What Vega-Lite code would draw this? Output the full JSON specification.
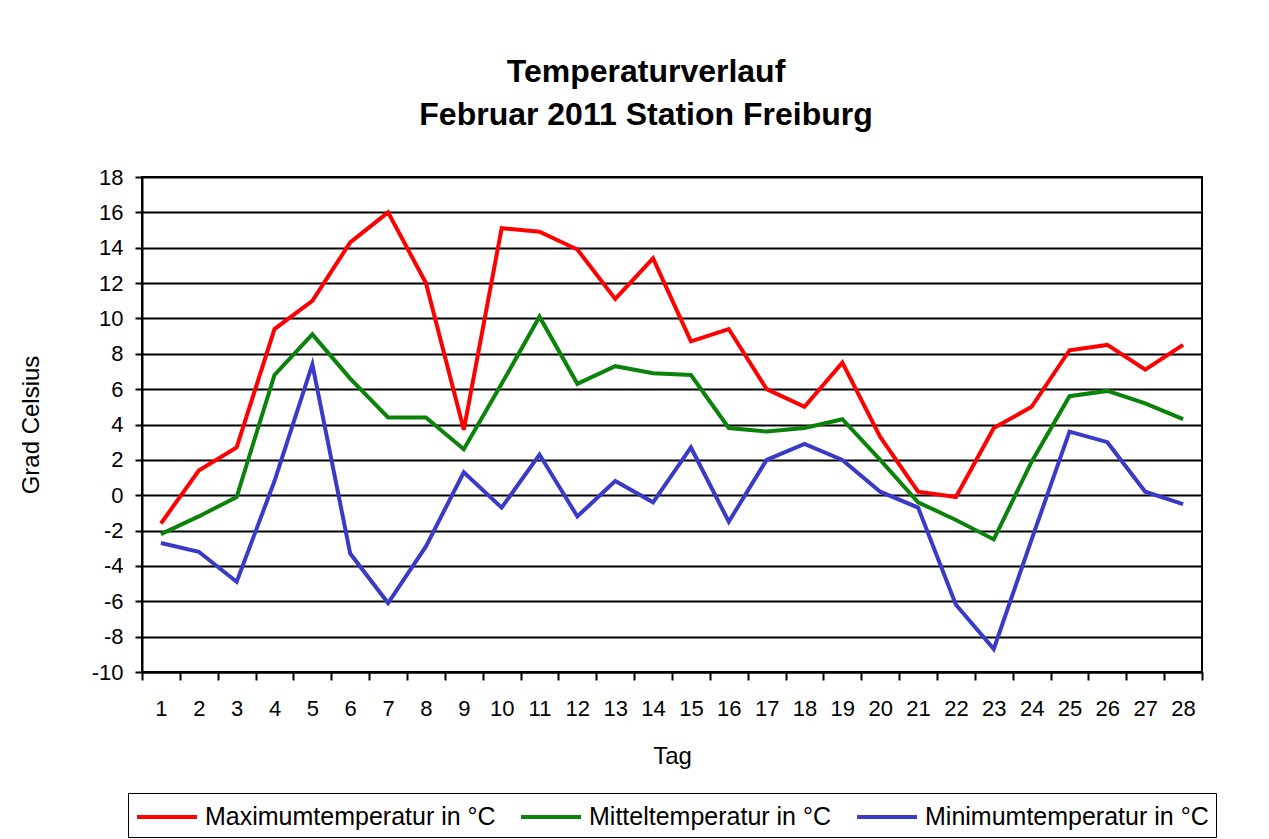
{
  "$schema": "https://vega.github.io/schema/vega-lite/v6.json",
  "autosize": {"type": "none"},
  "width": 1060,
  "height": 495,
  "padding": {"left": 142, "top": 177, "right": 67, "bottom": 167},
  "background": "white",
  "title": {
    "text": ["Temperaturverlauf", "Februar 2011 Station Freiburg"],
    "font": "Liberation Sans",
    "fontSize": 32,
    "fontWeight": "bold",
    "color": "black",
    "lineHeight": 43,
    "anchor": "middle",
    "dx": -26,
    "offset": 34
  },
  "config": {
    "view": {"stroke": "black", "strokeWidth": 2},
    "font": "Liberation Sans"
  },
  "data": {
    "values": [
      {"Tag": 1, "Serie": "Maximumtemperatur in °C", "Wert": -1.6},
      {"Tag": 2, "Serie": "Maximumtemperatur in °C", "Wert": 1.4},
      {"Tag": 3, "Serie": "Maximumtemperatur in °C", "Wert": 2.7},
      {"Tag": 4, "Serie": "Maximumtemperatur in °C", "Wert": 9.4},
      {"Tag": 5, "Serie": "Maximumtemperatur in °C", "Wert": 11.0},
      {"Tag": 6, "Serie": "Maximumtemperatur in °C", "Wert": 14.3},
      {"Tag": 7, "Serie": "Maximumtemperatur in °C", "Wert": 16.0},
      {"Tag": 8, "Serie": "Maximumtemperatur in °C", "Wert": 12.0},
      {"Tag": 9, "Serie": "Maximumtemperatur in °C", "Wert": 3.7},
      {"Tag": 10, "Serie": "Maximumtemperatur in °C", "Wert": 15.1},
      {"Tag": 11, "Serie": "Maximumtemperatur in °C", "Wert": 14.9},
      {"Tag": 12, "Serie": "Maximumtemperatur in °C", "Wert": 13.9},
      {"Tag": 13, "Serie": "Maximumtemperatur in °C", "Wert": 11.1},
      {"Tag": 14, "Serie": "Maximumtemperatur in °C", "Wert": 13.4},
      {"Tag": 15, "Serie": "Maximumtemperatur in °C", "Wert": 8.7},
      {"Tag": 16, "Serie": "Maximumtemperatur in °C", "Wert": 9.4},
      {"Tag": 17, "Serie": "Maximumtemperatur in °C", "Wert": 6.0},
      {"Tag": 18, "Serie": "Maximumtemperatur in °C", "Wert": 5.0},
      {"Tag": 19, "Serie": "Maximumtemperatur in °C", "Wert": 7.5},
      {"Tag": 20, "Serie": "Maximumtemperatur in °C", "Wert": 3.3},
      {"Tag": 21, "Serie": "Maximumtemperatur in °C", "Wert": 0.2},
      {"Tag": 22, "Serie": "Maximumtemperatur in °C", "Wert": -0.1},
      {"Tag": 23, "Serie": "Maximumtemperatur in °C", "Wert": 3.8},
      {"Tag": 24, "Serie": "Maximumtemperatur in °C", "Wert": 5.0},
      {"Tag": 25, "Serie": "Maximumtemperatur in °C", "Wert": 8.2},
      {"Tag": 26, "Serie": "Maximumtemperatur in °C", "Wert": 8.5},
      {"Tag": 27, "Serie": "Maximumtemperatur in °C", "Wert": 7.1},
      {"Tag": 28, "Serie": "Maximumtemperatur in °C", "Wert": 8.5},
      {"Tag": 1, "Serie": "Mitteltemperatur in °C", "Wert": -2.2},
      {"Tag": 2, "Serie": "Mitteltemperatur in °C", "Wert": -1.2},
      {"Tag": 3, "Serie": "Mitteltemperatur in °C", "Wert": -0.1},
      {"Tag": 4, "Serie": "Mitteltemperatur in °C", "Wert": 6.8},
      {"Tag": 5, "Serie": "Mitteltemperatur in °C", "Wert": 9.1},
      {"Tag": 6, "Serie": "Mitteltemperatur in °C", "Wert": 6.6},
      {"Tag": 7, "Serie": "Mitteltemperatur in °C", "Wert": 4.4},
      {"Tag": 8, "Serie": "Mitteltemperatur in °C", "Wert": 4.4},
      {"Tag": 9, "Serie": "Mitteltemperatur in °C", "Wert": 2.6},
      {"Tag": 10, "Serie": "Mitteltemperatur in °C", "Wert": 6.3},
      {"Tag": 11, "Serie": "Mitteltemperatur in °C", "Wert": 10.1},
      {"Tag": 12, "Serie": "Mitteltemperatur in °C", "Wert": 6.3},
      {"Tag": 13, "Serie": "Mitteltemperatur in °C", "Wert": 7.3},
      {"Tag": 14, "Serie": "Mitteltemperatur in °C", "Wert": 6.9},
      {"Tag": 15, "Serie": "Mitteltemperatur in °C", "Wert": 6.8},
      {"Tag": 16, "Serie": "Mitteltemperatur in °C", "Wert": 3.8},
      {"Tag": 17, "Serie": "Mitteltemperatur in °C", "Wert": 3.6},
      {"Tag": 18, "Serie": "Mitteltemperatur in °C", "Wert": 3.8},
      {"Tag": 19, "Serie": "Mitteltemperatur in °C", "Wert": 4.3},
      {"Tag": 20, "Serie": "Mitteltemperatur in °C", "Wert": 2.0},
      {"Tag": 21, "Serie": "Mitteltemperatur in °C", "Wert": -0.4},
      {"Tag": 22, "Serie": "Mitteltemperatur in °C", "Wert": -1.4},
      {"Tag": 23, "Serie": "Mitteltemperatur in °C", "Wert": -2.5},
      {"Tag": 24, "Serie": "Mitteltemperatur in °C", "Wert": 1.9},
      {"Tag": 25, "Serie": "Mitteltemperatur in °C", "Wert": 5.6},
      {"Tag": 26, "Serie": "Mitteltemperatur in °C", "Wert": 5.9},
      {"Tag": 27, "Serie": "Mitteltemperatur in °C", "Wert": 5.2},
      {"Tag": 28, "Serie": "Mitteltemperatur in °C", "Wert": 4.3},
      {"Tag": 1, "Serie": "Minimumtemperatur in °C", "Wert": -2.7},
      {"Tag": 2, "Serie": "Minimumtemperatur in °C", "Wert": -3.2},
      {"Tag": 3, "Serie": "Minimumtemperatur in °C", "Wert": -4.9},
      {"Tag": 4, "Serie": "Minimumtemperatur in °C", "Wert": 0.8},
      {"Tag": 5, "Serie": "Minimumtemperatur in °C", "Wert": 7.4},
      {"Tag": 6, "Serie": "Minimumtemperatur in °C", "Wert": -3.3},
      {"Tag": 7, "Serie": "Minimumtemperatur in °C", "Wert": -6.1},
      {"Tag": 8, "Serie": "Minimumtemperatur in °C", "Wert": -2.9},
      {"Tag": 9, "Serie": "Minimumtemperatur in °C", "Wert": 1.3},
      {"Tag": 10, "Serie": "Minimumtemperatur in °C", "Wert": -0.7},
      {"Tag": 11, "Serie": "Minimumtemperatur in °C", "Wert": 2.3},
      {"Tag": 12, "Serie": "Minimumtemperatur in °C", "Wert": -1.2},
      {"Tag": 13, "Serie": "Minimumtemperatur in °C", "Wert": 0.8},
      {"Tag": 14, "Serie": "Minimumtemperatur in °C", "Wert": -0.4},
      {"Tag": 15, "Serie": "Minimumtemperatur in °C", "Wert": 2.7},
      {"Tag": 16, "Serie": "Minimumtemperatur in °C", "Wert": -1.5},
      {"Tag": 17, "Serie": "Minimumtemperatur in °C", "Wert": 2.0},
      {"Tag": 18, "Serie": "Minimumtemperatur in °C", "Wert": 2.9},
      {"Tag": 19, "Serie": "Minimumtemperatur in °C", "Wert": 2.0},
      {"Tag": 20, "Serie": "Minimumtemperatur in °C", "Wert": 0.2},
      {"Tag": 21, "Serie": "Minimumtemperatur in °C", "Wert": -0.7},
      {"Tag": 22, "Serie": "Minimumtemperatur in °C", "Wert": -6.2},
      {"Tag": 23, "Serie": "Minimumtemperatur in °C", "Wert": -8.7},
      {"Tag": 24, "Serie": "Minimumtemperatur in °C", "Wert": -2.5},
      {"Tag": 25, "Serie": "Minimumtemperatur in °C", "Wert": 3.6},
      {"Tag": 26, "Serie": "Minimumtemperatur in °C", "Wert": 3.0},
      {"Tag": 27, "Serie": "Minimumtemperatur in °C", "Wert": 0.2},
      {"Tag": 28, "Serie": "Minimumtemperatur in °C", "Wert": -0.5}
    ]
  },
  "mark": {"type": "line", "strokeWidth": 4, "strokeJoin": "miter"},
  "encoding": {
    "x": {
      "field": "Tag",
      "type": "ordinal",
      "bandPosition": 0.5,
      "scale": {"type": "band", "paddingInner": 0, "paddingOuter": 0},
      "axis": {
        "title": "Tag",
        "titleFont": "Liberation Sans",
        "titleFontSize": 24,
        "titleFontWeight": "normal",
        "titleColor": "black",
        "titlePadding": 25,
        "labelAngle": 0,
        "labelFont": "Liberation Sans",
        "labelFontSize": 22,
        "labelColor": "black",
        "labelPadding": 18,
        "tickBand": "extent",
        "tickSize": 8,
        "tickWidth": 2,
        "tickColor": "black",
        "domainColor": "black",
        "domainWidth": 2,
        "grid": false
      }
    },
    "y": {
      "field": "Wert",
      "type": "quantitative",
      "scale": {"domain": [-10, 18], "nice": false, "zero": false},
      "axis": {
        "title": "Grad Celsius",
        "titleFont": "Liberation Sans",
        "titleFontSize": 24,
        "titleFontWeight": "normal",
        "titleColor": "black",
        "titlePadding": 48,
        "values": [-10, -8, -6, -4, -2, 0, 2, 4, 6, 8, 10, 12, 14, 16, 18],
        "labelExpr": "datum.value",
        "labelFont": "Liberation Sans",
        "labelFontSize": 22,
        "labelColor": "black",
        "labelPadding": 12,
        "tickSize": 7,
        "tickWidth": 2,
        "tickColor": "black",
        "domainColor": "black",
        "domainWidth": 2,
        "grid": true,
        "gridColor": "black",
        "gridWidth": 2,
        "gridOpacity": 1
      }
    },
    "color": {
      "field": "Serie",
      "type": "nominal",
      "sort": null,
      "scale": {
        "domain": ["Maximumtemperatur in °C", "Mitteltemperatur in °C", "Minimumtemperatur in °C"],
        "range": ["#ff0000", "#0b830b", "#3a3ac8"]
      },
      "legend": {
        "title": null,
        "orient": "none",
        "legendX": -14,
        "legendY": 616,
        "direction": "horizontal",
        "columns": 3,
        "symbolType": "M-1,0H3",
        "symbolSize": 900,
        "symbolStrokeWidth": 4,
        "labelFont": "Liberation Sans",
        "labelFontSize": 25,
        "labelColor": "black",
        "labelOffset": 36,
        "columnPadding": 17,
        "padding": 7,
        "strokeColor": "black",
        "fillColor": "white",
        "cornerRadius": 0,
        "labelLimit": 400
      }
    }
  }
}
